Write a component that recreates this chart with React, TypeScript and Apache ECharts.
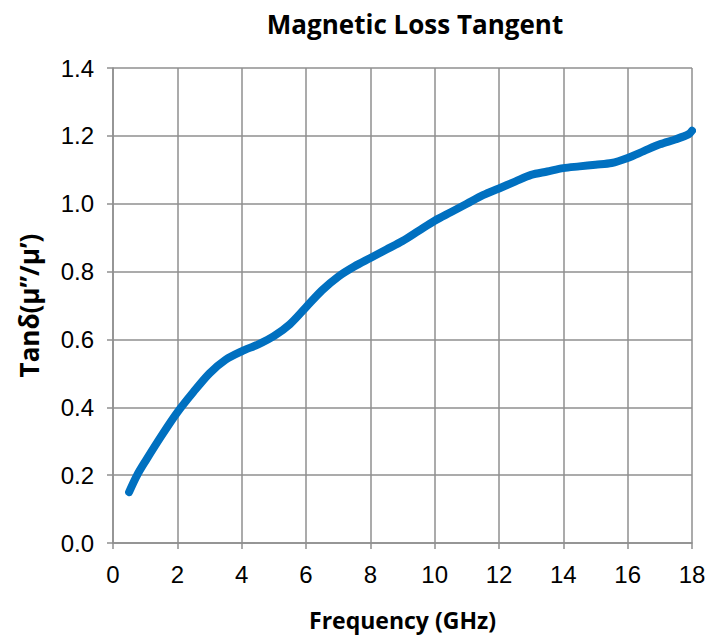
import React, { useEffect, useRef } from "react";
import * as echarts from "echarts";

const frequency = [0.5, 0.75, 1.0, 1.5, 2.0, 2.5, 3.0, 3.5, 4.0, 4.5, 5.0, 5.5, 6.0, 6.5, 7.0, 7.5, 8.0, 8.5, 9.0, 9.5, 10.0, 10.5, 11.0, 11.5, 12.0, 12.5, 13.0, 13.5, 14.0, 14.5, 15.0, 15.5, 16.0, 16.5, 17.0, 17.5, 17.9, 18.0];
const tanDelta = [0.15, 0.2, 0.24, 0.315, 0.385, 0.445, 0.5, 0.54, 0.565, 0.585, 0.61, 0.645, 0.695, 0.745, 0.785, 0.815, 0.84, 0.865, 0.89, 0.92, 0.95, 0.975, 1.0, 1.025, 1.045, 1.065, 1.085, 1.095, 1.105, 1.11, 1.115, 1.12, 1.135, 1.155, 1.175, 1.19, 1.205, 1.215];

const title = "Magnetic Loss Tangent";
const xName = "Frequency (GHz)";
const yName = "Tanδ(μ”/μ’)";

export default function App() {
  const ref = useRef<HTMLDivElement>(null);
  useEffect(() => {
    document.body.style.margin = "0";
    const chart = echarts.init(ref.current!, null, { renderer: "svg" });
    const gray = "#8f8f8f";
    chart.setOption({
      animation: false,
      backgroundColor: "#ffffff",
      title: {
        text: title,
        left: 410,
        top: 6,
        textAlign: "center",
        textStyle: { fontFamily: "Open Sans", fontWeight: "bold", fontSize: 26, color: "#000" },
      },
      grid: { left: 113, right: 30, top: 68, bottom: 94, containLabel: false },
      xAxis: {
        type: "value",
        min: 0,
        max: 18,
        interval: 2,
        name: xName,
        nameLocation: "middle",
        nameGap: 65,
        nameTextStyle: { fontFamily: "Open Sans", fontWeight: "bold", fontSize: 23, color: "#000" },
        axisLine: { show: true, lineStyle: { color: gray, width: 1.5 } },
        axisTick: { show: true, length: 6, lineStyle: { color: gray, width: 1.5 } },
        axisLabel: { fontFamily: "Liberation Sans", fontSize: 24, color: "#000", margin: 19 },
        splitLine: { show: true, lineStyle: { color: gray, width: 1.5 } },
      },
      yAxis: {
        type: "value",
        min: 0,
        max: 1.4,
        interval: 0.2,
        name: yName,
        nameLocation: "middle",
        nameGap: 71,
        nameTextStyle: { fontFamily: "Open Sans", fontWeight: "bold", fontSize: 26, color: "#000" },
        axisLine: { show: true, lineStyle: { color: gray, width: 1.5 } },
        axisTick: { show: true, length: 6, lineStyle: { color: gray, width: 1.5 } },
        axisLabel: {
          fontFamily: "Liberation Sans",
          fontSize: 24,
          color: "#000",
          margin: 19,
          formatter: (v: number) => v.toFixed(1),
        },
        splitLine: { show: true, lineStyle: { color: gray, width: 1.5 } },
      },
      series: [
        {
          type: "line",
          data: frequency.map((f, i) => [f, tanDelta[i]]),
          showSymbol: false,
          smooth: 0.3,
          lineStyle: { color: "#0070C0", width: 8, cap: "round", join: "round" },
          itemStyle: { color: "#0070C0" },
        },
      ],
    });
    return () => chart.dispose();
  }, []);
  return <div ref={ref} style={{ width: 722, height: 637 }} />;
}
